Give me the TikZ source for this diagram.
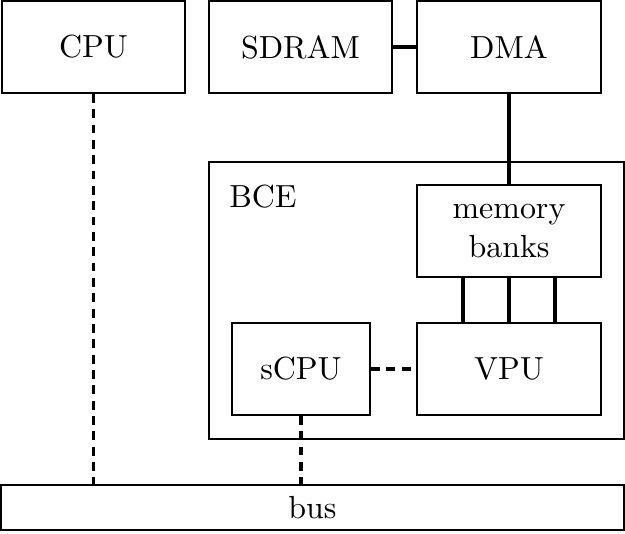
\documentclass[tikz,border=0pt]{standalone}
\usetikzlibrary{positioning}
\begin{document}
\begin{tikzpicture}[x=0.011cm,y=-0.011cm,
  block/.style={draw,semithick,minimum width=2.02cm,minimum height=1.01cm,align=center,inner sep=0pt},
  link/.style={line width=1.25pt},
  dlink/.style={line width=1.25pt,dash pattern=on 2.8pt off 2pt}]
  \useasboundingbox (0,0) rectangle (625,533);
  % top row
  \node[block]              (cpu)   at (93.5,47)  {CPU};
  \node[block]              (sdram) at (300.5,47) {SDRAM};
  \node[block]              (dma)   at (509,47)   {DMA};
  % BCE frame
  \node[block,minimum width=4.565cm,minimum height=3.047cm] (bce) at (416.5,300.5) {};
  \node                     (bcelbl) at (263,197) {BCE};
  \node[block]              (mem)   at (509,231)  {memory\\banks};
  \node[block,minimum width=1.52cm] (scpu) at (301,369) {sCPU};
  \node[block]              (vpu)   at (509,369)  {VPU};
  % bus
  \node[block,minimum width=6.853cm,minimum height=0.495cm] (bus) at (312.5,507.5) {bus};
  % connectors
  \draw[link]  (sdram) -- (dma);
  \draw[link]  (dma) -- (mem);
  \foreach \d in {-46,0,46}
    \draw[link] ([xshift=\d*0.011cm]mem.south) -- ([xshift=\d*0.011cm]vpu.north);
  \draw[dlink] (scpu) -- (vpu);
  \draw[dlink] (cpu.south) -- (cpu.south |- bus.north);
  \draw[dlink] (scpu.south) -- (scpu.south |- bus.north);
\end{tikzpicture}
\end{document}
